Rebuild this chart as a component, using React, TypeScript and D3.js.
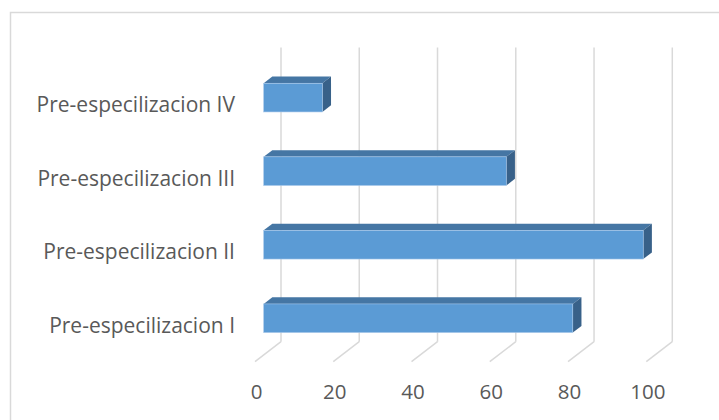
import React from "react";
import * as d3 from "d3";

const categories = [
  "Pre-especilizacion I",
  "Pre-especilizacion II",
  "Pre-especilizacion III",
  "Pre-especilizacion IV"
];
const values = [79, 97, 62, 15];
const ticks = [0, 20, 40, 60, 80, 100];

const width = 719;
const height = 420;

// 3d depth of the floor (back wall -> front edge)
const depthX = -26;
const depthY = 20;

const gridColor = "#d9d9d9";
const textColor = "#595959";
const font = "'Open Sans', 'Noto Sans', sans-serif";

const x = d3.scaleLinear().domain([0, 100]).range([281, 672.3]);
const y = d3
  .scaleBand()
  .domain(categories.slice().reverse())
  .range([47.5, 341.7]);

const barFrac = 0.39;

const Bar = ({ cat, value }) => {
  // bar sits in the middle third of the depth
  const fx = (depthX * 2) / 3;
  const fy = (depthY * 2) / 3;
  const dx = -depthX / 3;
  const dy = -depthY / 3;
  const bh = y.bandwidth() * barFrac;
  const cy = y(cat) + y.bandwidth() / 2 + fy;
  const yt = cy - bh / 2;
  const yb = cy + bh / 2;
  const x0 = x(0) + fx;
  const x1 = x(value) + fx;

  const top = [
    [x0, yt],
    [x1, yt],
    [x1 + dx, yt + dy],
    [x0 + dx, yt + dy]
  ];
  const side = [
    [x1, yt],
    [x1 + dx, yt + dy],
    [x1 + dx, yb + dy],
    [x1, yb]
  ];
  const pts = p => p.map(d => d.join(",")).join(" ");

  return (
    <g>
      <polygon points={pts(top)} fill="#4576a4" />
      <polygon points={pts(side)} fill="#386189" />
      <rect
        x={x0}
        y={yt}
        width={x1 - x0}
        height={bh}
        fill="#5b9bd5"
        stroke="#a9c8ea"
        strokeWidth={0.6}
      />
    </g>
  );
};

export default function App() {
  const floorY = y.range()[1];
  return (
    <svg
      width={width}
      height={height}
      style={{ position: "absolute", left: 0, top: 0 }}
    >
      <rect x={0} y={0} width={width} height={height} fill="#fff" />
      <rect
        x={10.5}
        y={12.5}
        width={width + 10}
        height={height + 10}
        fill="none"
        stroke={gridColor}
        strokeWidth={1.5}
      />

      {ticks.map(t => (
        <g key={t}>
          <line
            x1={x(t)}
            x2={x(t)}
            y1={y.range()[0]}
            y2={floorY}
            stroke={gridColor}
            strokeWidth={1.5}
          />
          <line
            x1={x(t)}
            y1={floorY}
            x2={x(t) + depthX}
            y2={floorY + depthY}
            stroke={gridColor}
            strokeWidth={1.5}
          />
          <text
            x={x(t) + depthX + 1.5}
            y={391}
            textAnchor="middle"
            dominantBaseline="central"
            fontFamily={font}
            fontSize={20.5}
            fill={textColor}
          >
            {t}
          </text>
        </g>
      ))}

      {categories.map((c, i) => (
        <Bar key={c} cat={c} value={values[i]} />
      ))}

      {categories.map(c => (
        <text
          key={c}
          x={235}
          y={y(c) + y.bandwidth() / 2 + depthY}
          textAnchor="end"
          dominantBaseline="central"
          fontFamily={font}
          fontSize={21}
          fill={textColor}
        >
          {c}
        </text>
      ))}
    </svg>
  );
}
